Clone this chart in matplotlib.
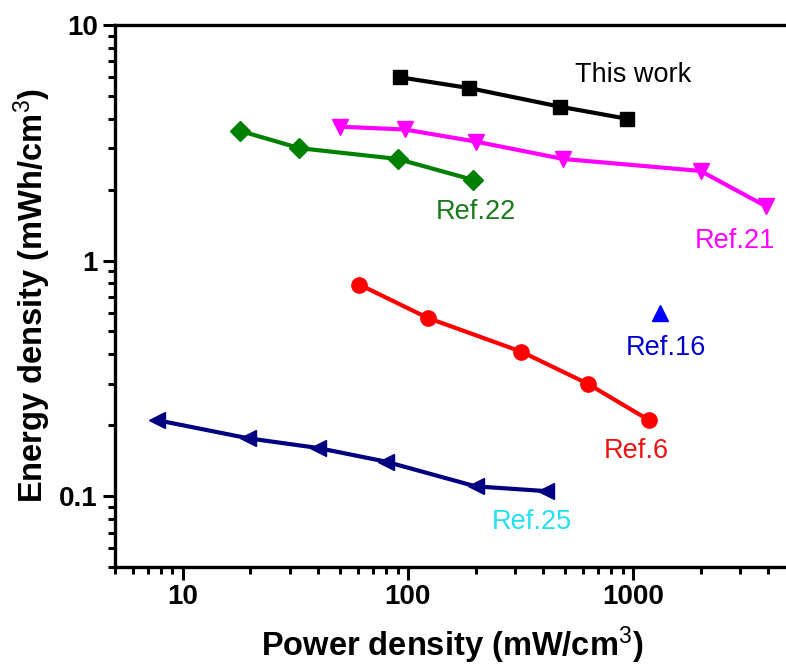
import matplotlib
matplotlib.use('Agg')
import matplotlib.pyplot as plt
from matplotlib.ticker import LogLocator, FuncFormatter, NullFormatter

plt.rcParams['font.family'] = ['Liberation Sans', 'DejaVu Sans']
plt.rcParams['mathtext.fontset'] = 'custom'
plt.rcParams['mathtext.rm'] = 'Liberation Sans'
plt.rcParams['mathtext.it'] = 'Liberation Sans'
plt.rcParams['mathtext.bf'] = 'Liberation Sans:bold'

# data (power density mW/cm3, energy density mWh/cm3)
this_x = [92, 187, 474, 940]
this_y = [6.0, 5.4, 4.5, 4.0]

ref21_x = [50, 97, 200, 490, 2000, 3900]
ref21_y = [3.7, 3.6, 3.2, 2.7, 2.4, 1.7]

ref22_x = [18, 33, 90, 195]
ref22_y = [3.55, 3.0, 2.7, 2.2]

ref6_x = [61, 123, 320, 630, 1180]
ref6_y = [0.79, 0.57, 0.41, 0.30, 0.21]

ref16_x = [1320]
ref16_y = [0.6]

ref25_x = [7.7, 19.5, 40, 80, 200, 410]
ref25_y = [0.21, 0.176, 0.16, 0.14, 0.11, 0.105]

fig = plt.figure(figsize=(7.86, 6.68), dpi=100)
ax = fig.add_axes([0.1463, 0.1512, 0.859, 0.8114])

ax.plot(this_x, this_y, '-s', color='black', lw=3, ms=10)
ax.plot(ref21_x, ref21_y, '-v', color='#ff00ff', lw=3, ms=12)
ax.plot(ref22_x, ref22_y, '-D', color='#008000', lw=3, ms=10)
ax.plot(ref6_x, ref6_y, '-o', color='#ff0000', lw=3, ms=11)
ax.plot(ref16_x, ref16_y, '^', color='#0000ff', ms=11, lw=0)
ax.plot(ref25_x, ref25_y, '-<', color='#000080', lw=3, ms=12)

# labels next to each series
tfont = dict(fontsize=19.5, ha='center', va='center')
ax.text(1000, 6.13, 'This work', color='black', **tfont)
ax.text(200, 1.61, 'Ref.22', color='#1a7a1a', **tfont)
ax.text(2840, 1.21, 'Ref.21', color='#ff00ff', **tfont)
ax.text(1400, 0.425, 'Ref.16', color='#0000cc', **tfont)
ax.text(1040, 0.155, 'Ref.6', color='#ee1111', **tfont)
ax.text(356, 0.0776, 'Ref.25', color='#22e0f0', **tfont)

ax.set_xscale('log')
ax.set_yscale('log')
ax.set_xlim(5, 5000)
ax.set_ylim(0.05, 10)

fmt = FuncFormatter(lambda v, p: '%g' % v)
ax.xaxis.set_major_locator(LogLocator(base=10))
ax.yaxis.set_major_locator(LogLocator(base=10))
ax.xaxis.set_major_formatter(fmt)
ax.yaxis.set_major_formatter(fmt)
ax.xaxis.set_minor_locator(LogLocator(base=10, subs=range(2, 10)))
ax.yaxis.set_minor_locator(LogLocator(base=10, subs=range(2, 10)))
ax.xaxis.set_minor_formatter(NullFormatter())
ax.yaxis.set_minor_formatter(NullFormatter())

for s in ['left', 'bottom', 'top']:
    ax.spines[s].set_linewidth(2.4)
ax.spines['right'].set_visible(False)
ax.tick_params(which='major', direction='out', length=9, width=2.2,
               labelsize=20, top=False, right=False)
ax.tick_params(which='minor', direction='out', length=5, width=2.2,
               top=False, right=False)
for lab in ax.get_xticklabels() + ax.get_yticklabels():
    lab.set_fontweight('bold')

ax.set_xlabel('Power density (mW/cm$^3$)', fontsize=23.5, fontweight='bold', labelpad=10)
ax.set_ylabel('Energy density (mWh/cm$^3$)', fontsize=23.5, fontweight='bold', labelpad=4)

fig.savefig('out.png', dpi=100)
